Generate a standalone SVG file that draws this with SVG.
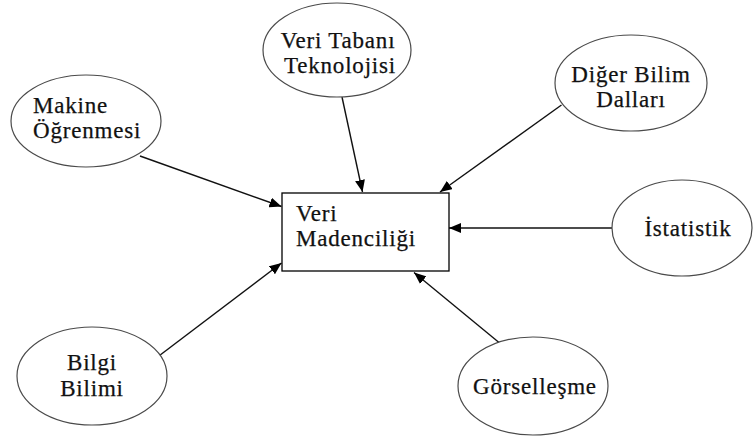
<svg xmlns="http://www.w3.org/2000/svg" width="753" height="439" viewBox="0 0 753 439">
  <defs>
    <marker id="arrow" viewBox="0 0 12 10" refX="12" refY="5" markerWidth="12" markerHeight="10" markerUnits="userSpaceOnUse" orient="auto">
      <path d="M0,0 L12,5 L0,10 Z" fill="#000"/>
    </marker>
    <style>
      .ell { fill: #fff; stroke: #4a4a4a; stroke-width: 1.2; }
      .box { fill: #fff; stroke: #000; stroke-width: 1.3; }
      .lbl { font-family: "Liberation Serif", "Times New Roman", serif; font-size: 23px; letter-spacing: 0.8px; fill: #111; stroke: #111; stroke-width: 0.25; }
      .mid { text-anchor: middle; }
      .conn line { stroke: #111; stroke-width: 1.4; marker-end: url(#arrow); }
    </style>
  </defs>
  <rect width="753" height="439" fill="#fff"/>

  <!-- connectors -->
  <g id="connectors" class="conn">
    <line x1="140" y1="156" x2="281.5" y2="206.5"/>
    <line x1="342" y1="97" x2="362.5" y2="192"/>
    <line x1="561.5" y1="105" x2="440" y2="192"/>
    <line x1="612" y1="228" x2="449" y2="228"/>
    <line x1="499" y1="342.5" x2="414" y2="272.5"/>
    <line x1="159.5" y1="355.5" x2="281.5" y2="263"/>
  </g>

  <!-- central node -->
  <g id="veri-madenciligi">
    <rect class="box" x="282" y="193" width="167" height="78"/>
    <text class="lbl" x="296" y="221">Veri</text>
    <text class="lbl" x="296" y="246">Madenciliği</text>
  </g>

  <g id="makine-ogrenmesi">
    <ellipse class="ell" cx="86" cy="121" rx="75" ry="46"/>
    <text class="lbl" x="33" y="113">Makine</text>
    <text class="lbl" x="33" y="138">Öğrenmesi</text>
  </g>

  <g id="veri-tabani-teknolojisi">
    <ellipse class="ell" cx="337" cy="50" rx="74" ry="47"/>
    <text class="lbl mid" x="338" y="48">Veri Tabanı</text>
    <text class="lbl mid" x="340" y="73">Teknolojisi</text>
  </g>

  <g id="diger-bilim-dallari">
    <ellipse class="ell" cx="631" cy="83" rx="76" ry="48"/>
    <text class="lbl mid" x="631" y="82">Diğer Bilim</text>
    <text class="lbl mid" x="631" y="107">Dalları</text>
  </g>

  <g id="istatistik">
    <ellipse class="ell" cx="682" cy="228" rx="70" ry="48"/>
    <text class="lbl mid" x="688" y="236">İstatistik</text>
  </g>

  <g id="bilgi-bilimi">
    <ellipse class="ell" cx="92" cy="376" rx="75" ry="49"/>
    <text class="lbl mid" x="92" y="370">Bilgi</text>
    <text class="lbl mid" x="92" y="396">Bilimi</text>
  </g>

  <g id="gorsellesme">
    <ellipse class="ell" cx="533" cy="386" rx="75" ry="49"/>
    <text class="lbl mid" x="535" y="394">Görselleşme</text>
  </g>
</svg>
